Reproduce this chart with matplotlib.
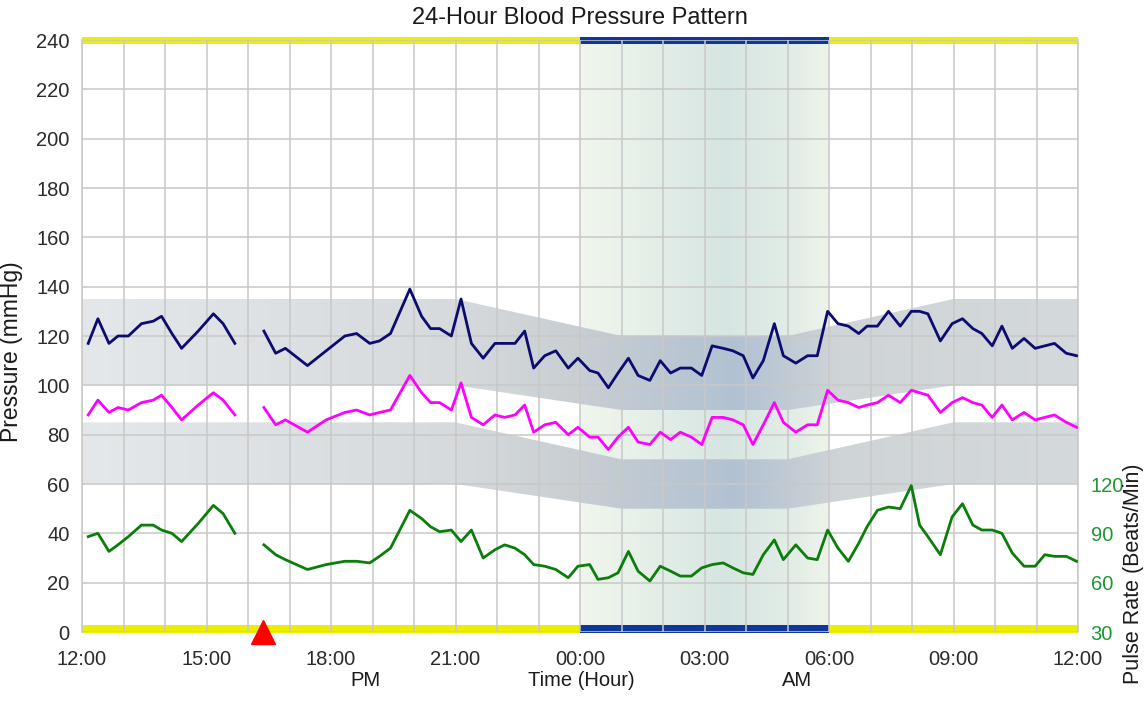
import numpy as np
import matplotlib
matplotlib.use("Agg")
import matplotlib.pyplot as plt
from matplotlib.patches import Polygon, Rectangle

# ---------------- data ----------------
times = ["12:09", "12:23", "12:39", "12:52", "13:07", "13:26", "13:43", "13:55", "14:10", "14:24",
         "14:48", "15:10", "15:24", "15:41",
         "16:23", "16:40", "16:54", "17:26", "17:53", "18:20", "18:37", "18:56", "19:10", "19:26",
         "19:54", "20:11", "20:24", "20:37", "20:54", "21:08", "21:23", "21:40", "21:57", "22:11",
         "22:26", "22:40", "22:53", "23:09", "23:25", "23:43", "23:57", "00:14", "00:26", "00:41",
         "00:55", "01:10", "01:24", "01:41", "01:56", "02:11", "02:25", "02:41", "02:56", "03:11",
         "03:27", "03:41", "03:56", "04:10", "04:25", "04:41", "04:54", "05:12", "05:29", "05:43",
         "05:58", "06:13", "06:28", "06:43", "06:55", "07:10", "07:26", "07:43", "07:59", "08:11",
         "08:23", "08:41", "08:58", "09:13", "09:28", "09:41", "09:56", "10:10", "10:25", "10:42",
         "10:58", "11:12", "11:26", "11:43", "11:58"]

systolic = [117, 127, 117, 120, 120, 125, 126, 128, 121, 115, 122, 129, 125, 117,
            122, 113, 115, 108, 114, 120, 121, 117, 118, 121,
            139, 128, 123, 123, 120, 135, 117, 111, 117, 117,
            117, 122, 107, 112, 114, 107, 111, 106, 105, 99,
            105, 111, 104, 102, 110, 105, 107, 107, 104, 116,
            115, 114, 112, 103, 110, 125, 112, 109, 112, 112,
            130, 125, 124, 121, 124, 124, 130, 124, 130, 130,
            129, 118, 125, 127, 123, 121, 116, 124, 115, 119,
            115, 116, 117, 113, 112]

diastolic = [88, 94, 89, 91, 90, 93, 94, 96, 91, 86, 92, 97, 94, 88,
             91, 84, 86, 81, 86, 89, 90, 88, 89, 90,
             104, 97, 93, 93, 90, 101, 87, 84, 88, 87,
             88, 92, 81, 84, 85, 80, 83, 79, 79, 74,
             79, 83, 77, 76, 81, 78, 81, 79, 76, 87,
             87, 86, 84, 76, 84, 93, 85, 81, 84, 84,
             98, 94, 93, 91, 92, 93, 96, 93, 98, 97,
             96, 89, 93, 95, 93, 92, 87, 92, 86, 89,
             86, 87, 88, 85, 83]

pulse = [88, 90, 79, 83, 88, 95, 95, 92, 90, 85, 96, 107, 102, 90,
         83, 77, 74, 68, 71, 73, 73, 72, 76, 81,
         104, 99, 94, 91, 92, 85, 92, 75, 80, 83,
         81, 77, 71, 70, 68, 63, 70, 71, 62, 63,
         66, 79, 67, 61, 70, 67, 64, 64, 69, 71,
         72, 69, 66, 65, 77, 86, 74, 83, 75, 74,
         92, 81, 73, 84, 94, 104, 106, 105, 119, 95,
         88, 77, 100, 108, 95, 92, 92, 90, 78, 70,
         70, 77, 76, 76, 73]

x_tick_labels = ["12:00", "15:00", "18:00", "21:00", "00:00", "03:00", "06:00", "09:00", "12:00"]
pressure_ticks = [0, 20, 40, 60, 80, 100, 120, 140, 160, 180, 200, 220, 240]
pulse_ticks = [30, 60, 90, 120]

# normal-range bands (hours after 12:00)
band_hours = [0, 9, 13, 17, 21, 24]
sys_upper = [135, 135, 120, 120, 135, 135]
sys_lower = [100, 100, 90, 90, 100, 100]
dia_upper = [85, 85, 70, 70, 85, 85]
dia_lower = [60, 60, 50, 50, 60, 60]
sleep_start, sleep_end = "00:00", "06:00"
event_time = "16:22"


def to_h(s):
    hh, mm = map(int, s.split(":"))
    return ((hh - 12) % 24) + mm / 60.0


t = np.array([to_h(s) for s in times])
sys_a = np.array(systolic, float)
dia_a = np.array(diastolic, float)
pul_a = np.array(pulse, float)
# split into segments where readings are missing (gap > 36 min)
breaks = np.where(np.diff(t) > 0.6)[0] + 1
segs = np.split(np.arange(len(t)), breaks)

s0 = to_h(sleep_start)
s1 = to_h(sleep_end) if to_h(sleep_end) > s0 else to_h(sleep_end) + 24

plt.rcParams["font.family"] = ["Liberation Sans", "DejaVu Sans"]
fig = plt.figure(figsize=(11.44, 7.04), dpi=100)
ax = fig.add_axes([82 / 1144, 1 - 632 / 704, 996 / 1144, 592 / 704])


def grad(stops, n=600, x0=0, x1=24):
    xs = np.linspace(x0, x1, n)
    pos = [p for p, _ in stops]
    arr = np.zeros((1, n, 3))
    for c in range(3):
        arr[0, :, c] = np.interp(xs, pos, [col[c] for _, col in stops]) / 255.0
    return arr


# night shading
night = grad([(12, (240, 246, 237)), (13.5, (230, 240, 233)), (15.5, (215, 229, 226)),
              (17.3, (228, 238, 231)), (18, (238, 244, 234))], x0=s0, x1=s1)
ax.imshow(night, extent=[s0, s1, 0, 240], aspect="auto", zorder=0.1, interpolation="bilinear")

band_rgb = grad([(0, (229, 232, 235)), (9, (214, 218, 221)), (12, (200, 206, 210)),
                 (15.8, (178, 193, 211)), (17.2, (195, 204, 212)), (18.2, (207, 212, 215)),
                 (24, (212, 217, 220))])
for up, lo in [(sys_upper, sys_lower), (dia_upper, dia_lower)]:
    verts = list(zip(band_hours, up)) + list(zip(band_hours[::-1], lo[::-1]))
    poly = Polygon(verts, closed=True, facecolor="none", edgecolor="none")
    ax.add_patch(poly)
    im = ax.imshow(band_rgb, extent=[0, 24, 0, 240], aspect="auto", zorder=0.2,
                   interpolation="bilinear")
    im.set_clip_path(poly)

# activity bars
for y0, h in [(238.4, 2.9), (-0.4, 3.3)]:
    for a, b, col in [(0, s0, "#eeee00"), (s0, s1, "#0f379a"), (s1, 24, "#eeee00")]:
        ax.add_patch(Rectangle((a, y0), b - a, h, facecolor=col, edgecolor="none",
                               clip_on=False, zorder=0.4))

ax.set_xlim(0, 24)
ax.set_ylim(0, 240)
ax.set_axisbelow(True)
ax.set_xticks(np.arange(0, 25, 1), minor=True)
ax.set_xticks(np.arange(0, 25, 3))
ax.set_xticklabels(x_tick_labels)
ax.set_yticks(pressure_ticks[:-1])
ax.set_yticks(pressure_ticks)
ax.grid(True, which="both", axis="x", color="#c8c8c8", lw=1.1)
ax.grid(True, which="major", axis="y", color="#c8c8c8", lw=1.1)
ax.tick_params(axis="both", which="both", length=0, labelsize=14.5, colors="#2a2a2a")
ax.tick_params(axis="x", pad=13)
ax.tick_params(axis="y", pad=9)
for name, sp in ax.spines.items():
    if name in ("top", "bottom"):
        sp.set_visible(False)
    else:
        sp.set_color("#c8c8c8")
        sp.set_linewidth(1.1)
        sp.set_zorder(0.5)

for idx in segs:
    ax.plot(t[idx], sys_a[idx], color="#0b0b70", lw=2.0, zorder=3)
    ax.plot(t[idx], dia_a[idx], color="#ff00ff", lw=2.0, zorder=3)

ax2 = ax.twinx()
ax2.set_ylim(30, 30 + 1.5 * 240)
ax2.set_yticks(pulse_ticks)
ax2.tick_params(axis="y", length=0, pad=9, labelsize=14.5, colors="#1e9632")
for sp in ax2.spines.values():
    sp.set_visible(False)
for idx in segs:
    ax2.plot(t[idx], pul_a[idx], color="#0a7d0a", lw=2.0, zorder=3)

ax2.plot([to_h(event_time)], [30], marker="^", color="#ff0000", ms=17, clip_on=False,
         zorder=6, linestyle="none")

fig.text(580 / 1144, 1 - 18 / 704, "24-Hour Blood Pressure Pattern", ha="center", va="center",
         fontsize=17, color="#1a1a1a")
fig.text(12 / 1144, 1 - 352 / 704, "Pressure (mmHg)", rotation=90, ha="center", va="center",
         fontsize=16.5, color="#1a1a1a")
fig.text(1133 / 1144, 1 - 574 / 704, "Pulse Rate (Beats/Min)", rotation=90, ha="center",
         va="center", fontsize=15.5, color="#1a1a1a")
fig.text(581 / 1144, 1 - 681 / 704, "Time (Hour)", ha="center", va="center", fontsize=14.5,
         color="#1a1a1a")
fig.text(365 / 1144, 1 - 681 / 704, "PM", ha="center", va="center", fontsize=14.5,
         color="#1a1a1a")
fig.text(797 / 1144, 1 - 681 / 704, "AM", ha="center", va="center", fontsize=14.5,
         color="#1a1a1a")

fig.savefig("out.png", dpi=100)
